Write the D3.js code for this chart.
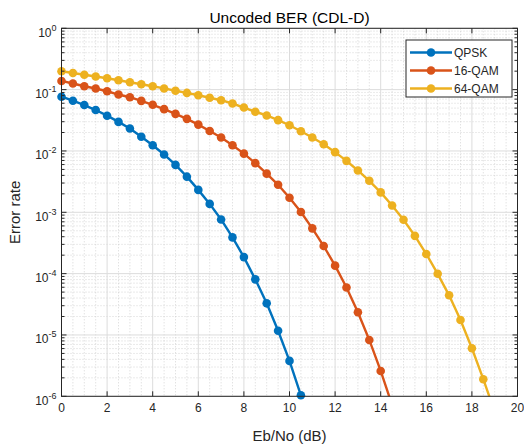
<!DOCTYPE html>
<html>
<head>
<meta charset="utf-8">
<script src="https://cdn.jsdelivr.net/npm/d3@7"></script>
<style>
  body { margin: 0; background: #fff; }
  svg { display: block; font-family: "Liberation Sans", Arial, sans-serif; }
</style>
</head>
<body>
<div id="chart"></div>
<script>
// data (Eb/No in dB, error rate)
const ebno = [0, 0.5, 1, 1.5, 2, 2.5, 3, 3.5, 4, 4.5, 5, 5.5, 6, 6.5, 7, 7.5, 8, 8.5, 9, 9.5,
  10, 10.5, 11, 11.5, 12, 12.5, 13, 13.5, 14, 14.5, 15, 15.5, 16, 16.5, 17, 17.5, 18, 18.5, 19];

const qpsk = [0.0766, 0.0659, 0.0561, 0.0465, 0.0376, 0.0298, 0.0232, 0.0171, 0.0124, 0.00877,
  0.00593, 0.00381, 0.00232, 0.00137, 7.65e-4, 3.90e-4, 1.86e-4, 8.07e-5, 3.28e-5, 1.17e-5,
  3.78e-6, 1.04e-6];

const qam16 = [0.1386, 0.1257, 0.1136, 0.1042, 0.0942, 0.0832, 0.0752, 0.0655, 0.0566, 0.0481,
  0.0403, 0.0334, 0.0269, 0.0212, 0.0166, 0.0124, 0.00904, 0.00633, 0.00427, 0.00281,
  0.00173, 0.00101, 5.47e-4, 2.82e-4, 1.35e-4, 5.94e-5, 2.34e-5, 8.3e-6, 2.59e-6, 7.2e-7];

const qam64 = [0.1995, 0.187, 0.175, 0.164, 0.153, 0.142, 0.132, 0.1225, 0.1136, 0.1046,
  0.0960, 0.0884, 0.0811, 0.0738, 0.0672, 0.0594, 0.0511, 0.0436, 0.0379, 0.0318,
  0.0263, 0.0210, 0.0166, 0.0129, 0.00956, 0.00690, 0.00481, 0.00326, 0.00211, 0.00129,
  7.55e-4, 4.13e-4, 2.09e-4, 9.93e-5, 4.43e-5, 1.75e-5, 6.07e-6, 1.90e-6, 5.57e-7];

const seriesNames = ["QPSK", "16-QAM", "64-QAM"];
const seriesValues = [qpsk, qam16, qam64];
const colors = ["#0072BD", "#D95319", "#EDB120"];

const xTicks = [0, 2, 4, 6, 8, 10, 12, 14, 16, 18, 20];
const yExponents = [0, -1, -2, -3, -4, -5, -6];

const width = 524, height = 446;
const plotL = 61.5, plotR = 517.5, plotT = 28.3, plotB = 396.3;
const axisColor = "#262626";

const svg = d3.select("#chart").append("svg")
  .attr("width", width)
  .attr("height", height);

const x = d3.scaleLinear().domain([0, 20]).range([plotL, plotR]);
const y = d3.scaleLog().domain([1e-6, 1]).range([plotB, plotT]);

// grid - minor dotted, then major solid
const grid = svg.append("g");
const xMinor = d3.range(0, 20.01, 0.5).filter(v => v % 2 !== 0);
const yMinor = [];
yExponents.slice(0, -1).forEach(e => {
  for (let m = 2; m <= 9; m++) yMinor.push(m * Math.pow(10, e - 1));
});

grid.selectAll(".xminor").data(xMinor).enter().append("line")
  .attr("x1", d => x(d)).attr("x2", d => x(d))
  .attr("y1", plotT).attr("y2", plotB)
  .attr("stroke", "#cccccc").attr("stroke-width", 0.8)
  .attr("stroke-dasharray", "1,2");

grid.selectAll(".yminor").data(yMinor).enter().append("line")
  .attr("x1", plotL).attr("x2", plotR)
  .attr("y1", d => y(d)).attr("y2", d => y(d))
  .attr("stroke", "#cccccc").attr("stroke-width", 0.8)
  .attr("stroke-dasharray", "1,2");

grid.selectAll(".xmajor").data(xTicks).enter().append("line")
  .attr("x1", d => x(d)).attr("x2", d => x(d))
  .attr("y1", plotT).attr("y2", plotB)
  .attr("stroke", "#dcdcdc").attr("stroke-width", 1);

grid.selectAll(".ymajor").data(yExponents).enter().append("line")
  .attr("x1", plotL).attr("x2", plotR)
  .attr("y1", d => y(Math.pow(10, d))).attr("y2", d => y(Math.pow(10, d)))
  .attr("stroke", "#dcdcdc").attr("stroke-width", 1);

// clip so lines stop at the axes box
svg.append("clipPath").attr("id", "plot-clip")
  .append("rect")
  .attr("x", plotL).attr("y", plotT)
  .attr("width", plotR - plotL).attr("height", plotB - plotT);

const line = d3.line()
  .x(d => x(d[0]))
  .y(d => y(d[1]));

seriesValues.forEach((vals, i) => {
  const pts = vals.map((v, k) => [ebno[k], v]);
  svg.append("path")
    .datum(pts)
    .attr("clip-path", "url(#plot-clip)")
    .attr("fill", "none")
    .attr("stroke", colors[i])
    .attr("stroke-width", 2.4)
    .attr("d", line);

  svg.append("g").selectAll("circle")
    .data(pts.filter(d => d[1] >= 1e-6 && d[1] <= 1))
    .enter().append("circle")
    .attr("cx", d => x(d[0]))
    .attr("cy", d => y(d[1]))
    .attr("r", 4.3)
    .attr("fill", colors[i]);
});

// axes box and inward ticks
const frame = svg.append("g").attr("stroke", axisColor).attr("stroke-width", 1);
frame.append("rect")
  .attr("x", plotL).attr("y", plotT)
  .attr("width", plotR - plotL).attr("height", plotB - plotT)
  .attr("fill", "none");

xTicks.forEach(t => {
  frame.append("line").attr("x1", x(t)).attr("x2", x(t)).attr("y1", plotB).attr("y2", plotB - 5);
  frame.append("line").attr("x1", x(t)).attr("x2", x(t)).attr("y1", plotT).attr("y2", plotT + 5);
});
yExponents.forEach(e => {
  const yy = y(Math.pow(10, e));
  frame.append("line").attr("x1", plotL).attr("x2", plotL + 5).attr("y1", yy).attr("y2", yy);
  frame.append("line").attr("x1", plotR).attr("x2", plotR - 5).attr("y1", yy).attr("y2", yy);
});
yMinor.forEach(v => {
  frame.append("line").attr("x1", plotL).attr("x2", plotL + 3).attr("y1", y(v)).attr("y2", y(v));
  frame.append("line").attr("x1", plotR).attr("x2", plotR - 3).attr("y1", y(v)).attr("y2", y(v));
});

// tick labels
svg.append("g").selectAll("text")
  .data(xTicks).enter().append("text")
  .attr("x", d => x(d))
  .attr("y", plotB + 16)
  .attr("text-anchor", "middle")
  .attr("font-size", 12)
  .attr("fill", axisColor)
  .text(d => d);

const yLabels = svg.append("g").selectAll("text")
  .data(yExponents).enter().append("text")
  .attr("x", plotL - 5)
  .attr("y", d => y(Math.pow(10, d)) + 8.5)
  .attr("text-anchor", "end")
  .attr("font-size", 12)
  .attr("fill", axisColor);
yLabels.append("tspan").text("10");
yLabels.append("tspan")
  .attr("dy", -6)
  .attr("font-size", 9)
  .text(d => d);

// title and axis labels
svg.append("text")
  .attr("x", (plotL + plotR) / 2)
  .attr("y", 23)
  .attr("text-anchor", "middle")
  .attr("font-size", 15.5)
  .attr("fill", "#000")
  .text("Uncoded BER (CDL-D)");

svg.append("text")
  .attr("x", (plotL + plotR) / 2)
  .attr("y", 441)
  .attr("text-anchor", "middle")
  .attr("font-size", 15)
  .attr("fill", axisColor)
  .text("Eb/No (dB)");

svg.append("text")
  .attr("transform", `translate(20, ${(plotT + plotB) / 2}) rotate(-90)`)
  .attr("text-anchor", "middle")
  .attr("font-size", 15)
  .attr("fill", axisColor)
  .text("Error rate");

// legend
const legend = svg.append("g").attr("transform", "translate(406, 40)");
legend.append("rect")
  .attr("width", 106).attr("height", 57)
  .attr("fill", "#fff")
  .attr("stroke", axisColor)
  .attr("stroke-width", 1);

seriesNames.forEach((name, i) => {
  const row = legend.append("g").attr("transform", `translate(0, ${12.5 + i * 18})`);
  row.append("line")
    .attr("x1", 4).attr("x2", 46)
    .attr("stroke", colors[i]).attr("stroke-width", 2.4);
  row.append("circle")
    .attr("cx", 25).attr("r", 4.3)
    .attr("fill", colors[i]);
  row.append("text")
    .attr("x", 48).attr("y", 4.5)
    .attr("font-size", 12)
    .attr("fill", axisColor)
    .text(name);
});
</script>
</body>
</html>
